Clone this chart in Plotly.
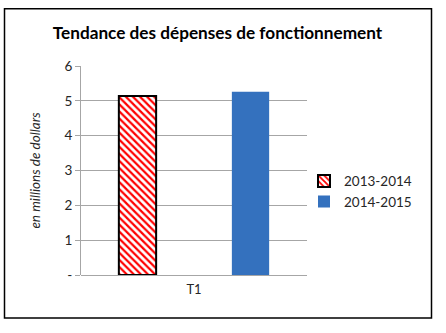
import plotly.graph_objects as go

categories = ["T1"]
series_names = ["2013-2014", "2014-2015"]
values_2013 = [5.14]
values_2014 = [5.26]
tick_vals = [0, 1, 2, 3, 4, 5, 6]
tick_text = ["-", "1", "2", "3", "4", "5", "6"]

FONT = "Lato, Carlito, 'Open Sans', sans-serif"

fig = go.Figure()
fig.add_trace(go.Bar(
    x=categories, y=values_2013, name=series_names[0],
    marker=dict(color="white",
                line=dict(color="black", width=2),
                pattern=dict(shape="\\", fgcolor="#ff0000", bgcolor="white",
                             size=5, solidity=0.45, fillmode="replace")),
))
fig.add_trace(go.Bar(
    x=categories, y=values_2014, name=series_names[1],
    marker=dict(color="#3471be", line=dict(width=0)),
))

L, R, T, B = 81, 307, 66, 275.5
W, H = 446, 333
pw, ph = R - L, B - T

def px_x(x):
    return (x - L) / pw

def px_y(y):
    return (B - y) / ph

fig.update_layout(
    width=W, height=H,
    margin=dict(l=L, r=W - R, t=T, b=H - B, autoexpand=False),
    paper_bgcolor="white", plot_bgcolor="white",
    barmode="group", bargap=0.0, bargroupgap=0.67,
    font=dict(family=FONT, size=13, color="#262626"),
    title=dict(text="<b>Tendance des dépenses de fonctionnement</b>",
               x=0.5 * (53 + 382) / W, xanchor="center",
               y=1 - 33 / H, yanchor="middle",
               font=dict(family=FONT, size=17.2, color="black")),
    showlegend=True,
    legend=dict(x=px_x(304), xanchor="left", y=px_y(166), yanchor="top",
                font=dict(family=FONT, size=13.5, color="#262626"),
                itemwidth=30, tracegroupgap=4, bgcolor="rgba(0,0,0,0)"),
    xaxis=dict(showline=False, showgrid=False, ticks="",
               ticklabelstandoff=5,
               tickfont=dict(family=FONT, size=13, color="#262626"),
               range=[-0.5, 0.5]),
    yaxis=dict(range=[0, 6], tickvals=tick_vals, ticktext=tick_text,
               showgrid=True, gridcolor="#a6a6a6", gridwidth=1,
               showline=True, linecolor="#a6a6a6", linewidth=1,
               ticks="outside", ticklen=5, tickcolor="#a6a6a6",
               zeroline=True, zerolinecolor="#a6a6a6", zerolinewidth=1,
               tickfont=dict(family=FONT, size=13.5, color="#262626"),
               title=dict(text="<i>en millions de dollars</i>", standoff=20,
                          font=dict(family=FONT, size=13.5, color="#262626"))),
    shapes=[dict(type="rect", xref="paper", yref="paper",
                 x0=px_x(4.5), x1=px_x(431.5), y0=px_y(318.5), y1=px_y(8.5),
                 line=dict(color="black", width=1.5), fillcolor="rgba(0,0,0,0)",
                 layer="below")],
)

fig.write_html("out.html")
